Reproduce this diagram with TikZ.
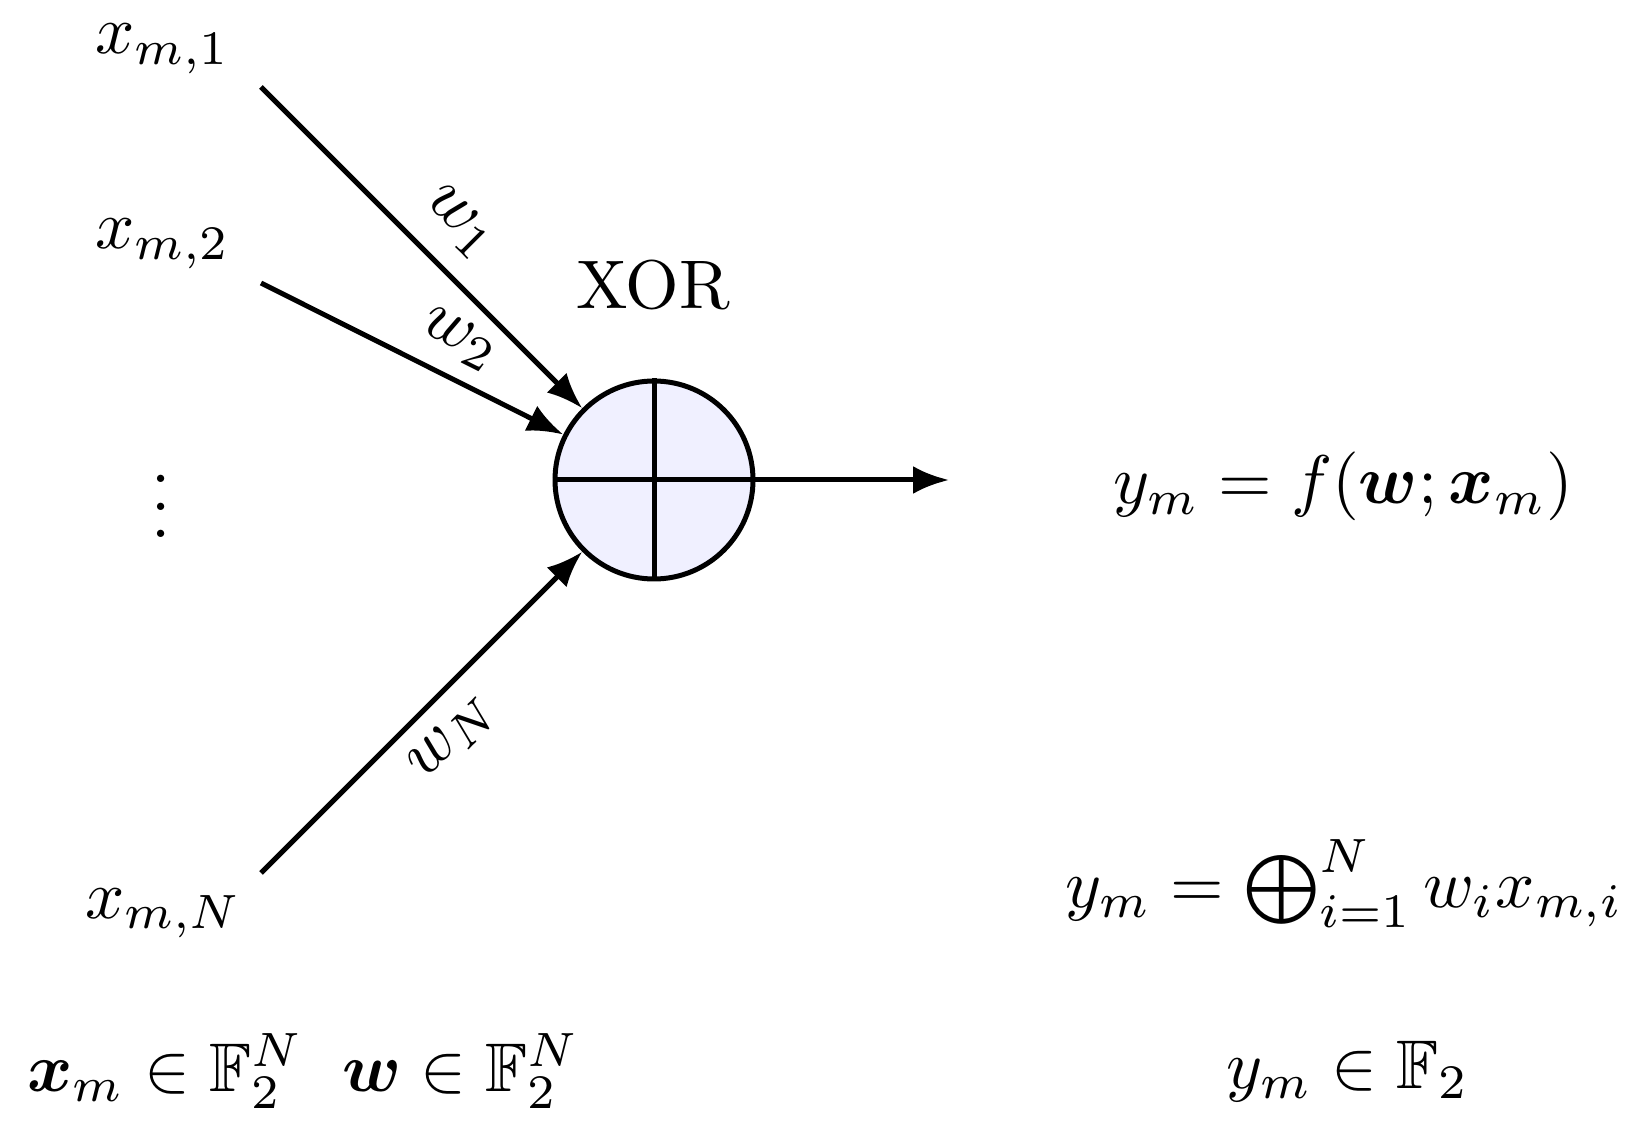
\documentclass[tikz,border=0pt]{standalone}
\usepackage{amsmath,amssymb}
\usetikzlibrary{arrows.meta}
\begin{document}
\begin{tikzpicture}[x=0.25pt,y=-0.25pt,
  lbl/.style={font=\normalsize, inner sep=0pt, scale=1.72, transform shape},
  conn/.style={line width=1.25pt, -{Latex[length=9pt,width=7pt]}},
  xorgate/.style={circle, draw, line width=1.25pt, fill=blue!6, minimum size=49.5pt, inner sep=0pt}]
\useasboundingbox (0,0) rectangle (1646,1132);
\node[xorgate] (xor) at (654,480) {};
\draw[line width=1.25pt] (xor.north) -- (xor.south) (xor.west) -- (xor.east);
\node[lbl, anchor=base west] (x1) at (94,54) {$x_{m,1}$};
\node[lbl, anchor=base west] (x2) at (94,249) {$x_{m,2}$};
\node[lbl] (dots) at (161,486) {$\vdots$};
\node[lbl, anchor=base west] (xN) at (84,918) {$x_{m,N}$};
\node[lbl, anchor=base] (xorlbl) at (653,309) {XOR};
\coordinate (s1) at (261,87);
\coordinate (s2) at (261,283);
\coordinate (sN) at (261,873);
\coordinate (out) at (949,480);
\draw[conn] (s1) -- node[lbl, pos=0.52, sloped, above=2.9pt] {$w_1$} (xor);
\draw[conn] (s2) -- node[lbl, pos=0.60, sloped, above=2pt] {$w_2$} (xor);
\draw[conn] (sN) -- node[lbl, pos=0.51, sloped, below=2.3pt] {$w_N$} (xor);
\draw[conn] (xor) -- (out);
\node[lbl, anchor=base west] (f) at (1112,504) {$y_m = f(\boldsymbol{w};\boldsymbol{x}_m)$};
\node[lbl, anchor=base west] (sum) at (1064,907) {$y_m = \bigoplus_{i=1}^N w_i x_{m,i}$};
\node[lbl, anchor=base west] (xin) at (26,1091) {$\boldsymbol{x}_m \in \mathbb{F}_2^N$};
\node[lbl, anchor=base west] (win) at (341,1091) {$\boldsymbol{w} \in \mathbb{F}_2^N$};
\node[lbl, anchor=base west] (yin) at (1225,1088) {$y_m \in \mathbb{F}_2$};
\end{tikzpicture}
\end{document}
